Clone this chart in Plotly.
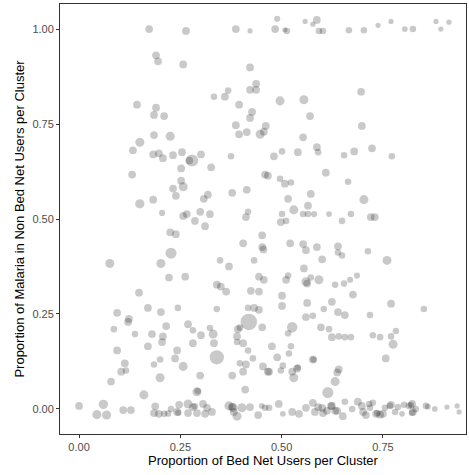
import math
import plotly.graph_objects as go

# (bed net proportion, malaria proportion among non-users, cluster size)
points_top = [
    (0.173, 1.000, 22), (0.264, 0.995, 22), (0.387, 1.000, 22), (0.422, 0.995, 10),
    (0.489, 1.027, 14), (0.484, 1.000, 22), (0.513, 0.995, 16), (0.508, 0.998, 10),
    (0.558, 1.020, 10), (0.587, 1.024, 22), (0.577, 1.013, 10), (0.592, 0.995, 16),
    (0.602, 0.995, 16), (0.666, 0.997, 16), (0.703, 0.997, 16), (0.738, 1.010, 10),
    (0.770, 1.020, 10), (0.804, 1.000, 12), (0.824, 1.000, 16), (0.881, 1.020, 10),
    (0.893, 1.000, 10), (0.913, 1.018, 10),
]

points_left = [
    (0.190, 0.931, 22), (0.195, 0.915, 22), (0.257, 0.907, 22), (0.422, 0.899, 22),
    (0.437, 0.856, 22), (0.422, 0.840, 22), (0.437, 0.840, 22), (0.333, 0.822, 16),
    (0.360, 0.822, 22), (0.368, 0.838, 16), (0.395, 0.801, 22), (0.143, 0.801, 22),
    (0.190, 0.793, 22), (0.185, 0.774, 22), (0.210, 0.771, 22), (0.427, 0.782, 22),
    (0.422, 0.766, 22), (0.387, 0.747, 22), (0.395, 0.723, 22), (0.414, 0.729, 22),
    (0.447, 0.723, 30), (0.461, 0.745, 22), (0.456, 0.730, 22),
    (0.185, 0.721, 22), (0.225, 0.718, 30), (0.150, 0.702, 30), (0.133, 0.681, 22),
    (0.183, 0.670, 22), (0.197, 0.673, 22), (0.207, 0.660, 22), (0.232, 0.668, 22),
    (0.254, 0.676, 22), (0.279, 0.654, 55), (0.272, 0.654, 22), (0.301, 0.670, 22),
    (0.326, 0.636, 22), (0.252, 0.633, 22), (0.375, 0.665, 16), (0.131, 0.617, 22),
    (0.459, 0.617, 22), (0.466, 0.614, 22), (0.252, 0.601, 22), (0.232, 0.580, 22),
    (0.257, 0.585, 30), (0.239, 0.561, 22), (0.318, 0.564, 22), (0.308, 0.553, 22),
    (0.378, 0.569, 22), (0.414, 0.577, 22), (0.150, 0.540, 32), (0.183, 0.551, 22),
    (0.205, 0.516, 14), (0.266, 0.513, 22), (0.299, 0.519, 22), (0.323, 0.513, 22),
    (0.417, 0.519, 16), (0.257, 0.508, 22), (0.286, 0.495, 22), (0.311, 0.481, 22),
    (0.412, 0.505, 22), (0.452, 0.457, 22), (0.405, 0.436, 22), (0.452, 0.426, 22),
    (0.455, 0.420, 22), (0.225, 0.465, 22), (0.239, 0.460, 22), (0.076, 0.383, 30),
    (0.227, 0.410, 45), (0.202, 0.383, 30), (0.348, 0.391, 16), (0.370, 0.375, 22),
    (0.432, 0.391, 16), (0.222, 0.346, 22), (0.262, 0.348, 22), (0.444, 0.348, 22),
    (0.456, 0.340, 22), (0.340, 0.327, 22), (0.350, 0.322, 22), (0.363, 0.309, 22),
    (0.148, 0.306, 22), (0.424, 0.311, 22), (0.444, 0.309, 22), (0.170, 0.266, 22),
    (0.202, 0.255, 22), (0.244, 0.266, 16), (0.340, 0.263, 16), (0.094, 0.253, 22),
    (0.123, 0.237, 22), (0.121, 0.229, 22), (0.417, 0.266, 16), (0.432, 0.266, 22),
    (0.444, 0.261, 22), (0.419, 0.229, 100), (0.452, 0.215, 22), (0.086, 0.210, 16),
    (0.138, 0.197, 16), (0.215, 0.218, 22), (0.180, 0.197, 22), (0.207, 0.191, 22),
    (0.205, 0.176, 22), (0.269, 0.223, 22), (0.281, 0.207, 16), (0.301, 0.194, 22),
    (0.323, 0.213, 16), (0.331, 0.197, 30), (0.333, 0.173, 22), (0.281, 0.173, 22),
    (0.392, 0.210, 22), (0.397, 0.214, 16), (0.390, 0.191, 22), (0.390, 0.176, 16),
    (0.405, 0.173, 22), (0.170, 0.165, 22), (0.094, 0.154, 22), (0.242, 0.154, 22),
    (0.417, 0.154, 16), (0.340, 0.136, 75), (0.237, 0.133, 22), (0.200, 0.130, 16),
    (0.429, 0.133, 16), (0.113, 0.120, 22), (0.185, 0.117, 16), (0.257, 0.112, 30),
    (0.397, 0.120, 16), (0.412, 0.117, 22), (0.454, 0.112, 22), (0.104, 0.098, 22),
    (0.116, 0.101, 16), (0.405, 0.098, 22), (0.466, 0.098, 22), (0.200, 0.082, 30),
    (0.299, 0.088, 22), (0.378, 0.088, 22), (0.079, 0.072, 22), (0.410, 0.051, 22),
    (0.291, 0.045, 30), (0.293, 0.047, 16), (0.160, 0.037, 30),
]

points_right = [
    (0.696, 0.835, 22), (0.496, 0.811, 30), (0.555, 0.814, 30), (0.570, 0.771, 22),
    (0.698, 0.745, 22), (0.553, 0.715, 22), (0.587, 0.689, 22), (0.590, 0.676, 16),
    (0.501, 0.678, 16), (0.540, 0.676, 22), (0.481, 0.665, 22), (0.654, 0.668, 16),
    (0.679, 0.678, 22), (0.723, 0.686, 22), (0.772, 0.665, 16), (0.609, 0.622, 22),
    (0.496, 0.606, 16), (0.508, 0.593, 22), (0.523, 0.596, 16), (0.664, 0.598, 16),
    (0.572, 0.566, 22), (0.516, 0.553, 22), (0.703, 0.551, 30), (0.565, 0.535, 22),
    (0.530, 0.524, 30), (0.501, 0.513, 16), (0.553, 0.513, 16), (0.565, 0.513, 16),
    (0.580, 0.513, 14), (0.617, 0.513, 12), (0.671, 0.513, 16), (0.720, 0.505, 22),
    (0.730, 0.505, 22), (0.498, 0.492, 22), (0.511, 0.495, 16), (0.649, 0.495, 16),
    (0.521, 0.436, 22), (0.553, 0.434, 22), (0.560, 0.418, 22), (0.587, 0.426, 22),
    (0.639, 0.428, 22), (0.639, 0.412, 16), (0.649, 0.404, 16), (0.713, 0.415, 16),
    (0.760, 0.391, 30), (0.600, 0.394, 22), (0.555, 0.370, 22), (0.511, 0.340, 22),
    (0.516, 0.351, 16), (0.560, 0.335, 30), (0.563, 0.330, 22), (0.572, 0.346, 16),
    (0.592, 0.340, 30), (0.632, 0.327, 16), (0.654, 0.330, 16), (0.669, 0.340, 14),
    (0.686, 0.351, 14), (0.676, 0.301, 22), (0.501, 0.298, 22), (0.501, 0.271, 22),
    (0.563, 0.279, 22), (0.604, 0.263, 16), (0.624, 0.282, 22), (0.639, 0.255, 22),
    (0.656, 0.247, 22), (0.718, 0.247, 16), (0.770, 0.277, 22), (0.851, 0.263, 16),
    (0.560, 0.242, 22), (0.577, 0.245, 16), (0.526, 0.215, 40), (0.516, 0.199, 16),
    (0.597, 0.215, 22), (0.617, 0.210, 16), (0.624, 0.189, 22), (0.641, 0.191, 16),
    (0.656, 0.189, 16), (0.671, 0.189, 16), (0.725, 0.194, 16), (0.743, 0.189, 16),
    (0.770, 0.191, 16), (0.782, 0.205, 16), (0.775, 0.170, 30), (0.476, 0.165, 22),
    (0.523, 0.165, 16), (0.518, 0.146, 16), (0.489, 0.136, 22), (0.577, 0.130, 22),
    (0.579, 0.130, 16), (0.757, 0.133, 22), (0.469, 0.098, 22), (0.503, 0.114, 16),
    (0.498, 0.101, 16), (0.538, 0.106, 22), (0.540, 0.109, 16), (0.526, 0.098, 22),
    (0.530, 0.082, 30), (0.641, 0.104, 22), (0.637, 0.096, 22), (0.632, 0.072, 30),
    (0.614, 0.043, 45),
]

points_bottom = [
    (0.000, 0.008, 22), (0.060, 0.012, 32), (0.044, -0.015, 30), (0.068, -0.016, 30),
    (0.109, -0.003, 22), (0.128, -0.003, 22), (0.188, 0.007, 22), (0.185, -0.011, 22),
    (0.197, -0.013, 22), (0.210, -0.013, 16), (0.220, -0.012, 16), (0.227, 0.000, 16),
    (0.242, -0.008, 22), (0.245, -0.010, 16), (0.247, 0.011, 22), (0.269, 0.013, 30),
    (0.269, -0.011, 22), (0.281, 0.005, 22), (0.286, 0.007, 16), (0.291, -0.011, 22),
    (0.306, 0.013, 22), (0.316, 0.003, 22), (0.311, -0.013, 22), (0.328, -0.008, 22),
    (0.370, 0.008, 30), (0.380, 0.003, 30), (0.378, 0.006, 22), (0.402, 0.003, 30),
    (0.382, -0.008, 22), (0.390, -0.019, 30), (0.422, 0.005, 22), (0.442, -0.016, 22),
    (0.451, 0.008, 12), (0.459, 0.003, 16), (0.469, 0.003, 16), (0.493, 0.013, 22),
    (0.503, -0.013, 12), (0.526, -0.008, 22), (0.543, -0.013, 22), (0.560, 0.003, 22),
    (0.577, 0.016, 22), (0.590, 0.005, 22), (0.600, 0.003, 22), (0.612, -0.005, 22),
    (0.622, 0.008, 22), (0.582, -0.008, 22), (0.602, -0.011, 22), (0.632, -0.005, 22),
    (0.624, 0.008, 22), (0.656, 0.019, 16), (0.637, -0.005, 22), (0.651, -0.019, 22),
    (0.674, 0.000, 16), (0.688, 0.019, 22), (0.698, 0.008, 22), (0.701, -0.008, 22),
    (0.708, -0.016, 22), (0.716, 0.013, 16), (0.725, 0.016, 16), (0.718, 0.003, 16),
    (0.733, -0.013, 22), (0.736, -0.011, 16), (0.743, -0.015, 22), (0.750, -0.013, 22),
    (0.755, 0.003, 16), (0.770, 0.011, 22), (0.767, 0.008, 16), (0.780, -0.008, 16),
    (0.787, 0.005, 16), (0.797, -0.013, 12), (0.802, 0.011, 16), (0.814, 0.008, 16),
    (0.822, 0.013, 22), (0.819, 0.010, 16), (0.824, -0.008, 22), (0.822, -0.010, 16),
    (0.831, 0.000, 16), (0.856, 0.008, 16), (0.861, 0.006, 12), (0.878, 0.000, 12),
    (0.908, 0.005, 10), (0.933, 0.008, 10), (0.938, -0.008, 10),
]

x_ticks = [0.0, 0.25, 0.5, 0.75]
y_ticks = [0.0, 0.25, 0.5, 0.75, 1.0]
x_title = "Proportion of Bed Net Users per Cluster"
y_title = "Proportion of Malaria in Non Bed Net Users per Cluster"

all_points = points_top + points_left + points_right + points_bottom
bednet = [p[0] for p in all_points]
malaria = [p[1] for p in all_points]
cluster_n = [p[2] for p in all_points]

fig = go.Figure(go.Scatter(
    x=bednet, y=malaria, mode="markers",
    marker=dict(size=[1.65 * math.sqrt(n) for n in cluster_n],
                color="rgba(0,0,0,0.3)", line=dict(width=0)),
    hoverinfo="skip", showlegend=False,
))

axis_common = dict(
    showline=True, linecolor="#333333", linewidth=1, mirror=True,
    ticks="outside", ticklen=3, tickcolor="#333333", tickwidth=1,
    showgrid=False, zeroline=False, automargin=False,
    tickfont=dict(family="Liberation Sans, Arial, sans-serif", size=11, color="#4D4D4D"),
    tickformat=".2f",
)

fig.update_layout(
    width=469, height=475,
    margin=dict(l=60, r=3, t=4, b=41, autoexpand=False),
    paper_bgcolor="white", plot_bgcolor="white",
    font=dict(family="Liberation Sans, Arial, sans-serif"),
    xaxis=dict(range=[-0.047, 0.955], tickvals=x_ticks,
               title=dict(text=x_title, font=dict(size=13, color="black"), standoff=0),
               **axis_common),
    yaxis=dict(range=[-0.066, 1.066], tickvals=y_ticks,
               title=dict(text=y_title, font=dict(size=13, color="black"), standoff=4),
               **axis_common),
)

fig.write_html("out.html", config={"displayModeBar": False},
               post_script="document.body.style.margin='0px';")
